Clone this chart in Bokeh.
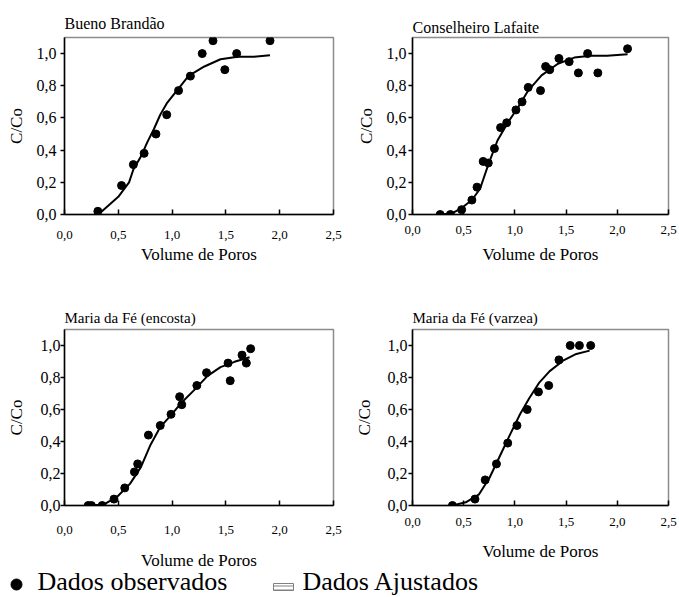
from bokeh.plotting import figure
from bokeh.layouts import column, row
from bokeh.models import Range1d, FixedTicker, CustomJSTickFormatter
from bokeh.embed import file_html
from bokeh.resources import INLINE
from bokeh.core.properties import value

FONT = "Liberation Serif"

# ---------------- data ----------------
x_ticks = [0.0, 0.5, 1.0, 1.5, 2.0, 2.5]
y_ticks = [0.0, 0.2, 0.4, 0.6, 0.8, 1.0]
x_label = "Volume de Poros"
y_label = "C/Co"
titles = ["Bueno Brandão", "Conselheiro Lafaite",
          "Maria da Fé (encosta)", "Maria da Fé (varzea)"]
legend_labels = ["Dados observados", "Dados Ajustados"]

# Bueno Brandão
bb_obs_x = [0.31, 0.53, 0.64, 0.74, 0.85, 0.95, 1.06, 1.17, 1.28, 1.38, 1.49, 1.60, 1.91]
bb_obs_y = [0.02, 0.18, 0.31, 0.38, 0.50, 0.62, 0.77, 0.86, 1.00, 1.08, 0.90, 1.00, 1.08]
bb_fit_x = [0.33, 0.50, 0.60, 0.64, 0.71, 0.77, 0.83, 0.89, 0.95, 1.02, 1.08, 1.14, 1.20,
            1.30, 1.45, 1.61, 1.76, 1.91]
bb_fit_y = [0.01, 0.11, 0.20, 0.28, 0.36, 0.45, 0.53, 0.62, 0.69, 0.75, 0.80, 0.85, 0.88,
            0.92, 0.965, 0.98, 0.98, 0.99]

# Conselheiro Lafaite
cl_obs_x = [0.27, 0.37, 0.48, 0.58, 0.63, 0.69, 0.74, 0.80, 0.86, 0.92, 1.01, 1.07, 1.13,
            1.25, 1.30, 1.34, 1.43, 1.53, 1.62, 1.71, 1.81, 2.10]
cl_obs_y = [0.00, 0.00, 0.03, 0.09, 0.17, 0.33, 0.32, 0.41, 0.54, 0.57, 0.65, 0.70, 0.79,
            0.77, 0.92, 0.90, 0.97, 0.95, 0.88, 1.00, 0.88, 1.03]
cl_fit_x = [0.27, 0.38, 0.48, 0.58, 0.66, 0.74, 0.83, 0.93, 1.03, 1.13, 1.26, 1.42, 1.58,
            1.74, 1.90, 2.10]
cl_fit_y = [0.00, 0.006, 0.04, 0.09, 0.16, 0.31, 0.46, 0.57, 0.665, 0.77, 0.865, 0.937,
            0.975, 0.987, 0.987, 0.996]

# Maria da Fé (encosta)
en_obs_x = [0.22, 0.25, 0.35, 0.46, 0.56, 0.65, 0.68, 0.78, 0.89, 0.99, 1.07, 1.09, 1.23,
            1.32, 1.52, 1.54, 1.65, 1.69, 1.73]
en_obs_y = [0.00, 0.00, 0.00, 0.04, 0.11, 0.21, 0.26, 0.44, 0.50, 0.57, 0.68, 0.63, 0.75,
            0.83, 0.89, 0.78, 0.94, 0.89, 0.98]
en_fit_x = [0.21, 0.36, 0.49, 0.61, 0.71, 0.80, 0.89, 0.99, 1.08, 1.20, 1.33, 1.45, 1.58, 1.72]
en_fit_y = [0.00, 0.004, 0.055, 0.137, 0.24, 0.38, 0.49, 0.565, 0.637, 0.718, 0.81, 0.865,
            0.898, 0.927]

# Maria da Fé (varzea)
va_obs_x = [0.39, 0.61, 0.71, 0.82, 0.93, 1.02, 1.12, 1.23, 1.33, 1.43, 1.54, 1.63, 1.74]
va_obs_y = [0.00, 0.04, 0.16, 0.26, 0.39, 0.50, 0.60, 0.71, 0.75, 0.91, 1.00, 1.00, 1.00]
va_fit_x = [0.39, 0.52, 0.65, 0.75, 0.85, 0.95, 1.05, 1.14, 1.24, 1.34, 1.47, 1.60, 1.73]
va_fit_y = [0.00, 0.02, 0.07, 0.17, 0.305, 0.44, 0.57, 0.67, 0.77, 0.84, 0.905, 0.947, 0.968]

FMT = "return tick.toFixed(1).replace('.', ',');"


def make_panel(title, ox, oy, fx, fy, w, h, bl, br, bt, bb, tsize, tstand,
               xs, xls, ys, yls):
    p = figure(width=w, height=h, x_range=Range1d(0, 2.5), y_range=Range1d(0, 1.1),
               output_backend="svg", toolbar_location=None,
               min_border_left=bl, min_border_right=br,
               min_border_top=bt, min_border_bottom=bb, title=title)
    p.title.text_font = FONT
    p.title.text_font_size = f"{tsize}px"
    p.title.text_font_style = "normal"
    p.title.text_color = "black"
    p.title.standoff = tstand
    p.grid.visible = False
    p.outline_line_color = "#8c8c8c"
    p.outline_line_width = 1.5
    p.background_fill_color = "white"
    p.border_fill_color = "white"

    p.line(fx, fy, line_color="black", line_width=2)
    p.scatter(ox, oy, size=8, color="black")

    xa = p.xaxis[0]
    xa.ticker = FixedTicker(ticks=x_ticks)
    xa.formatter = CustomJSTickFormatter(code=FMT)
    xa.major_tick_in = 5
    xa.major_tick_out = 0
    xa.minor_tick_line_color = None
    xa.axis_line_width = 1.5
    xa.axis_line_color = "black"
    xa.major_tick_line_width = 1.5
    xa.major_tick_line_color = "black"
    xa.major_label_text_font = FONT
    xa.major_label_text_font_size = "13px"
    xa.major_label_text_color = "black"
    xa.major_label_standoff = xs
    xa.axis_label = x_label
    xa.axis_label_text_font = FONT
    xa.axis_label_text_font_size = "17px"
    xa.axis_label_text_font_style = "normal"
    xa.axis_label_text_color = "black"
    xa.axis_label_standoff = xls

    ya = p.yaxis[0]
    ya.ticker = FixedTicker(ticks=y_ticks)
    ya.formatter = CustomJSTickFormatter(code=FMT)
    ya.major_tick_in = 0
    ya.major_tick_out = 4
    ya.minor_tick_line_color = None
    ya.axis_line_width = 1.5
    ya.axis_line_color = "black"
    ya.major_tick_line_width = 1.5
    ya.major_tick_line_color = "black"
    ya.major_label_text_font = FONT
    ya.major_label_text_font_size = "16px"
    ya.major_label_text_color = "black"
    ya.major_label_standoff = ys
    ya.axis_label = y_label
    ya.axis_label_text_font = FONT
    ya.axis_label_text_font_size = "17px"
    ya.axis_label_text_font_style = "normal"
    ya.axis_label_text_color = "black"
    ya.axis_label_standoff = yls
    return p


p1 = make_panel(titles[0], bb_obs_x, bb_obs_y, bb_fit_x, bb_fit_y,
                343, 283, 64, 10, 37, 69, 16, 12, 16, 3, 4, 8)
p2 = make_panel(titles[1], cl_obs_x, cl_obs_y, cl_fit_x, cl_fit_y,
                336, 283, 69, 11, 37, 69, 16, 3, 11, 8, 2, 8)
p3 = make_panel(titles[2], en_obs_x, en_obs_y, en_fit_x, en_fit_y,
                343, 300, 64, 10, 46, 78, 15, 8, 20, 14, 0, 12)
p4 = make_panel(titles[3], va_obs_x, va_obs_y, va_fit_x, va_fit_y,
                336, 300, 69, 11, 46, 78, 15, 8, 12, 13, 1, 11)

# legend strip (transparent, pulled up over the lower figures' empty border)
LH = 34
lf = figure(width=679, height=LH, x_range=Range1d(0, 679), y_range=Range1d(0, LH),
            output_backend="svg", toolbar_location=None, min_border=0,
            x_axis_type=None, y_axis_type=None)
lf.title = None
lf.outline_line_color = None
lf.background_fill_alpha = 0
lf.border_fill_alpha = 0
lf.styles = {"margin-top": "-20px"}
lf.scatter([16], [13], size=11, color="black")
lf.quad(left=[273], right=[293], bottom=[7], top=[14], fill_color="white",
        line_color="#808080", line_width=1, hatch_pattern="-", hatch_color="#808080",
        hatch_scale=4, hatch_weight=1)
lf.text(x=[37, 302], y=[16, 16], text=legend_labels, text_font=value(FONT),
        text_font_size="26px", text_baseline="middle", text_color="black")

layout = column(row(p1, p2), row(p3, p4), lf)

open("out.html", "w").write(file_html(layout, INLINE))
